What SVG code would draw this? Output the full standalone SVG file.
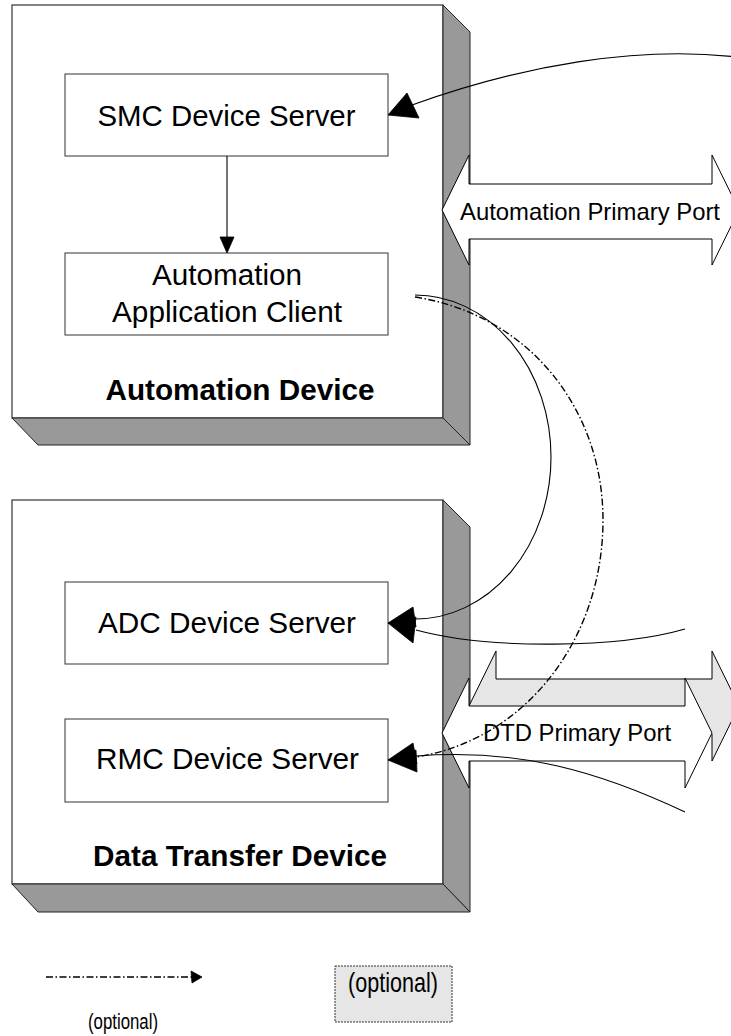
<svg xmlns="http://www.w3.org/2000/svg" width="731" height="1036" viewBox="0 0 731 1036">
<style>
.front{fill:#ffffff;stroke:#333333;stroke-width:1.2}
.shade{fill:#999999;stroke:#222222;stroke-width:1}
.box{fill:#ffffff;stroke:#333333;stroke-width:1}
.lbl{font-family:"Liberation Sans",Arial,sans-serif;font-size:29px;fill:#000000;text-anchor:middle}
.bold{font-weight:bold}
.port{fill:#ffffff;stroke:#000000;stroke-width:1}
.portopt{fill:#e6e6e6;stroke:#000000;stroke-width:1}
.plbl{font-family:"Liberation Sans",Arial,sans-serif;font-size:24px;fill:#000000;text-anchor:middle}
.conn{fill:none;stroke:#000000;stroke-width:1.1}
.opt{fill:none;stroke:#000000;stroke-width:1.4;stroke-dasharray:7 2.5 1.5 2.5}
.head{fill:#000000;stroke:#000000;stroke-width:0.8}
</style>

<g id="automation-device">
  <rect class="front" x="12" y="5" width="431" height="413"/>
  <polygon class="shade" points="443,5 470,32 470,445 443,418"/>
  <polygon class="shade" points="12,418 443,418 470,445 38,445"/>
  <text class="lbl bold" x="240" y="400" textLength="269" lengthAdjust="spacingAndGlyphs">Automation Device</text>
</g>

<g id="smc-device-server">
  <rect class="box" x="65" y="74" width="323" height="82"/>
  <text class="lbl" x="226.5" y="126" textLength="258" lengthAdjust="spacingAndGlyphs">SMC Device Server</text>
</g>

<g id="automation-application-client">
  <rect class="box" x="65" y="253" width="323" height="82"/>
  <text class="lbl" x="227" y="285" textLength="150" lengthAdjust="spacingAndGlyphs">Automation</text>
  <text class="lbl" x="227" y="322" textLength="230" lengthAdjust="spacingAndGlyphs">Application Client</text>
</g>

<g id="data-transfer-device">
  <rect class="front" x="12" y="500" width="431" height="384"/>
  <polygon class="shade" points="443,500 470,527 470,912 443,884"/>
  <polygon class="shade" points="12,884 443,884 470,912 38,912"/>
  <text class="lbl bold" x="240" y="866" textLength="294" lengthAdjust="spacingAndGlyphs">Data Transfer Device</text>
</g>

<g id="adc-device-server">
  <rect class="box" x="65" y="582" width="323" height="82"/>
  <text class="lbl" x="227" y="633" textLength="258" lengthAdjust="spacingAndGlyphs">ADC Device Server</text>
</g>

<g id="rmc-device-server">
  <rect class="box" x="65" y="719" width="323" height="83"/>
  <text class="lbl" x="227.5" y="769" textLength="263" lengthAdjust="spacingAndGlyphs">RMC Device Server</text>
</g>

<g id="automation-primary-port">
  <polygon class="port" points="442,210 469,155 469,184 712,184 712,155 739,210 712,265 712,239 469,239 469,265"/>
  <text class="plbl" x="590" y="220" textLength="260" lengthAdjust="spacingAndGlyphs">Automation Primary Port</text>
</g>

<g id="dtd-primary-port-optional">
  <polygon class="portopt" points="469,706 496,651 496,679 712,679 712,651 739,706 712,761 712,734 496,734 496,761"/>
</g>

<g id="dtd-primary-port">
  <polygon class="port" points="442,733 469,678 469,706 685,706 685,678 712,733 685,788 685,761 469,761 469,788"/>
  <text class="plbl" x="577" y="741" textLength="188" lengthAdjust="spacingAndGlyphs">DTD Primary Port</text>
</g>

<g id="connectors">
  <!-- SMC Device Server to Automation Application Client -->
  <line class="conn" x1="227" y1="156" x2="227" y2="239"/>
  <polygon class="head" points="227,253 220,237 234,237"/>

  <!-- external to SMC Device Server -->
  <path class="conn" d="M412,105 C520,66 640,44 745,58"/>
  <polygon class="head" points="388,115 407,93 419,118"/>

  <!-- Automation Application Client to ADC Device Server (solid arc) -->
  <path class="conn" d="M415,295 A136,162 0 0 1 415,619"/>
  <polygon class="head" points="388,623 413,607 416,627"/>

  <!-- external to ADC Device Server -->
  <path class="conn" d="M685,629 C620,648 490,650 416,630"/>
  <polygon class="head" points="388,623 416,617 413,643"/>

  <!-- Automation Application Client to RMC Device Server (optional) -->
  <path class="opt" d="M415,297 C530,315 603,410 603,520 C603,640 525,740 416,757"/>
  <polygon class="head" points="388,760 413,743 417,764"/>

  <!-- external to RMC Device Server -->
  <path class="conn" d="M685,812 C600,772 520,748 416,756"/>
  <polygon class="head" points="388,760 416,750 417,772"/>
</g>

<g id="legend">
  <line class="opt" x1="46" y1="977" x2="193" y2="977"/>
  <polygon class="head" points="202,977 191,971 192,983"/>
  <text x="123" y="1029" font-family="'Liberation Sans',Arial,sans-serif" font-size="22" text-anchor="middle" textLength="70" lengthAdjust="spacingAndGlyphs">(optional)</text>
  <rect x="335" y="966" width="117" height="56" fill="#e6e6e6" stroke="#333333" stroke-width="1" stroke-dasharray="2 1"/>
  <text x="393" y="992" font-family="'Liberation Sans',Arial,sans-serif" font-size="28" text-anchor="middle" textLength="90" lengthAdjust="spacingAndGlyphs">(optional)</text>
</g>
</svg>
